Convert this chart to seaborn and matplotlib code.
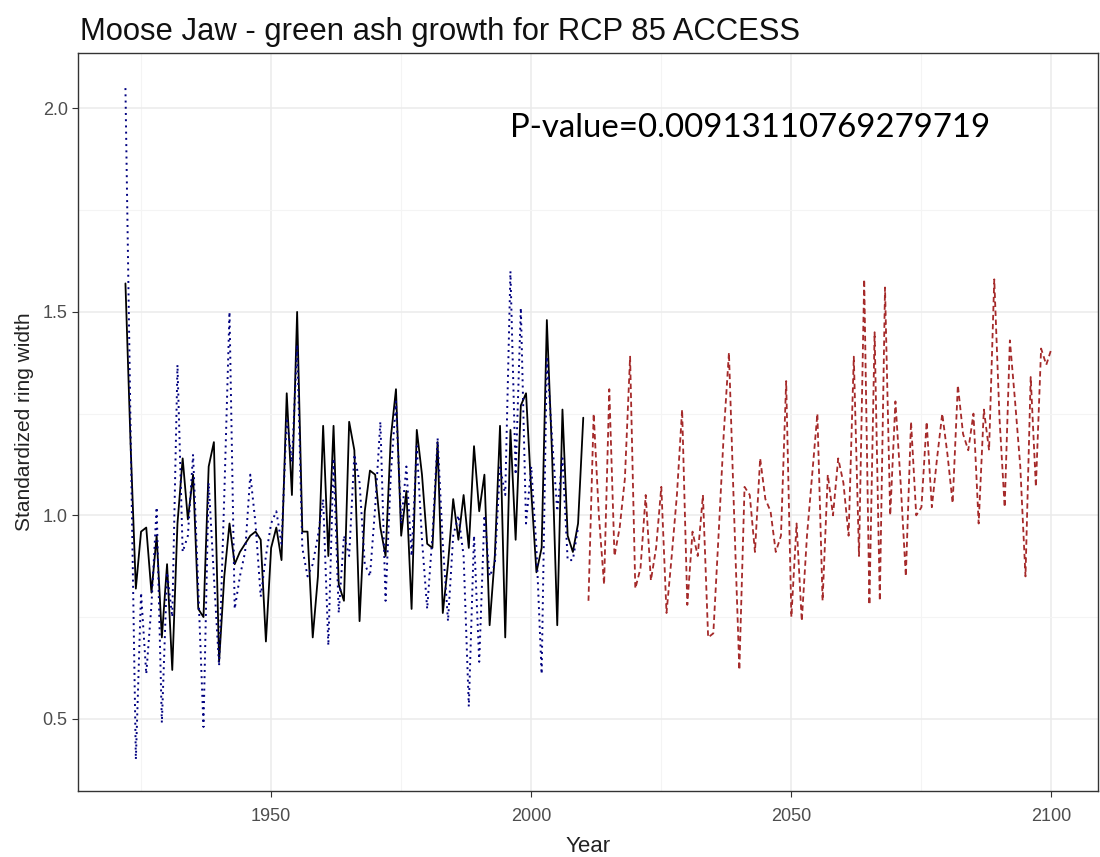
import numpy as np
import pandas as pd
import matplotlib
matplotlib.use("Agg")
import matplotlib.pyplot as plt
from matplotlib.ticker import MultipleLocator
import seaborn as sns

sns.set_theme(style="whitegrid")
plt.rcParams['font.family'] = ['Liberation Sans', 'DejaVu Sans']

# observed ring width (black, solid)
obs_years = list(range(1922, 2011))
obs_vals = [1.57, 1.17, 0.82, 0.96, 0.97, 0.81, 0.95, 0.70, 0.88, 0.62,
            0.98, 1.14, 0.99, 1.10, 0.77, 0.75, 1.12, 1.18, 0.64, 0.85,
            0.98, 0.88, 0.91, 0.93, 0.95, 0.96, 0.94, 0.69, 0.92, 0.97,
            0.89, 1.30, 1.05, 1.50, 0.96, 0.96, 0.70, 0.85, 1.22, 0.90,
            1.22, 0.83, 0.79, 1.23, 1.16, 0.74, 1.01, 1.11, 1.10, 0.97,
            0.90, 1.19, 1.31, 0.95, 1.06, 0.77, 1.21, 1.10, 0.93, 0.92,
            1.18, 0.76, 0.88, 1.04, 0.94, 1.05, 0.92, 1.17, 1.01, 1.10,
            0.73, 0.90, 1.22, 0.70, 1.21, 0.94, 1.27, 1.30, 1.06, 0.86,
            0.92, 1.48, 1.15, 0.73, 1.26, 0.95, 0.91, 0.98, 1.24]

# modelled ring width for the historical period (navy, dotted)
fit_years = list(range(1922, 2010))
fit_vals = [2.05, 1.20, 0.40, 0.81, 0.61, 0.78, 1.02, 0.49, 0.86, 0.75,
            1.37, 0.91, 0.95, 1.15, 0.82, 0.48, 1.08, 0.85, 0.63, 1.05,
            1.50, 0.77, 0.85, 0.91, 1.10, 0.98, 0.80, 0.90, 0.98, 1.01,
            0.93, 1.24, 1.13, 1.42, 0.92, 0.85, 0.88, 0.95, 1.04, 0.68,
            1.14, 0.76, 0.95, 0.90, 1.15, 1.08, 0.88, 0.85, 1.02, 1.23,
            0.79, 1.10, 1.28, 0.98, 1.12, 0.90, 1.17, 0.94, 0.77, 0.95,
            1.19, 0.93, 0.74, 0.95, 1.00, 0.90, 0.53, 0.95, 0.64, 1.00,
            0.85, 0.88, 1.12, 1.05, 1.60, 1.10, 1.51, 0.98, 1.12, 0.92,
            0.61, 1.39, 1.19, 1.01, 1.14, 0.89, 0.89, 0.97]

# projected ring width under RCP 8.5 (dark red, dashed)
proj_years = list(range(2011, 2101))
proj_vals = [0.79, 1.25, 1.00, 0.83, 1.31, 0.90, 0.97, 1.09, 1.39, 0.82,
             0.87, 1.05, 0.84, 0.92, 1.07, 0.76, 0.90, 1.05, 1.26, 0.78,
             0.96, 0.90, 1.05, 0.70, 0.71, 0.95, 1.20, 1.40, 1.00, 0.62,
             1.07, 1.05, 0.91, 1.14, 1.04, 1.01, 0.91, 0.95, 1.33, 0.75,
             0.98, 0.74, 0.95, 1.10, 1.25, 0.79, 1.10, 1.00, 1.14, 1.08,
             0.95, 1.39, 0.90, 1.58, 0.78, 1.45, 0.79, 1.56, 1.00, 1.28,
             1.08, 0.85, 1.23, 1.00, 1.02, 1.23, 1.02, 1.14, 1.25, 1.15,
             1.03, 1.32, 1.20, 1.16, 1.25, 0.98, 1.26, 1.16, 1.58, 1.24,
             1.02, 1.43, 1.28, 1.12, 0.85, 1.34, 1.07, 1.41, 1.37, 1.41]

obs = pd.DataFrame({'Year': obs_years, 'rw': obs_vals})
fit = pd.DataFrame({'Year': fit_years, 'rw': fit_vals})
proj = pd.DataFrame({'Year': proj_years, 'rw': proj_vals})

fig = plt.figure(figsize=(11, 8.57), dpi=100)
ax = fig.add_axes([0.071, 0.077, 0.927, 0.861])

sns.lineplot(data=obs, x='Year', y='rw', ax=ax, color='black', linewidth=1.3)
sns.lineplot(data=fit, x='Year', y='rw', ax=ax, color='#000080', linewidth=1.4,
             linestyle=(0, (1, 2.2)))
sns.lineplot(data=proj, x='Year', y='rw', ax=ax, color='#A52A2A', linewidth=1.3,
             linestyle=(0, (3, 2)))

ax.set_xlim(1912.9, 2108.9)
ax.set_ylim(0.3225, 2.136)
ax.xaxis.set_major_locator(MultipleLocator(50))
ax.xaxis.set_minor_locator(MultipleLocator(25))
ax.yaxis.set_major_locator(MultipleLocator(0.5))
ax.yaxis.set_minor_locator(MultipleLocator(0.25))
ax.yaxis.set_major_formatter(plt.FuncFormatter(lambda v, p: f"{v:.1f}"))

ax.grid(which='major', color='#EBEBEB', linewidth=1.1)
ax.grid(which='minor', color='#F4F4F4', linewidth=0.8)
ax.set_facecolor('white')
for s in ax.spines.values():
    s.set_color('#333333')
    s.set_linewidth(1.0)

ax.tick_params(axis='x', which='major', pad=8)
ax.tick_params(axis='both', which='major', labelsize=13, labelcolor='#4D4D4D',
               length=4, color='#333333', bottom=True, left=True, width=0.8)
ax.tick_params(which='minor', length=0)

ax.set_xlabel('Year', fontsize=16, color='#222222', labelpad=8)
ax.set_ylabel('Standardized ring width', fontsize=15, color='#222222', labelpad=6)

fig.text(0.073, 0.963, 'Moose Jaw - green ash growth for RCP 85 ACCESS',
         fontsize=22.3, color='#111111', ha='left', va='center')

ax.text(0.4235, 0.898, 'P-value=0.00913110769279719', transform=ax.transAxes,
        fontsize=23.8, family=['Lato', 'DejaVu Sans'], color='black',
        ha='left', va='center')

fig.savefig('out.png', dpi=100)
